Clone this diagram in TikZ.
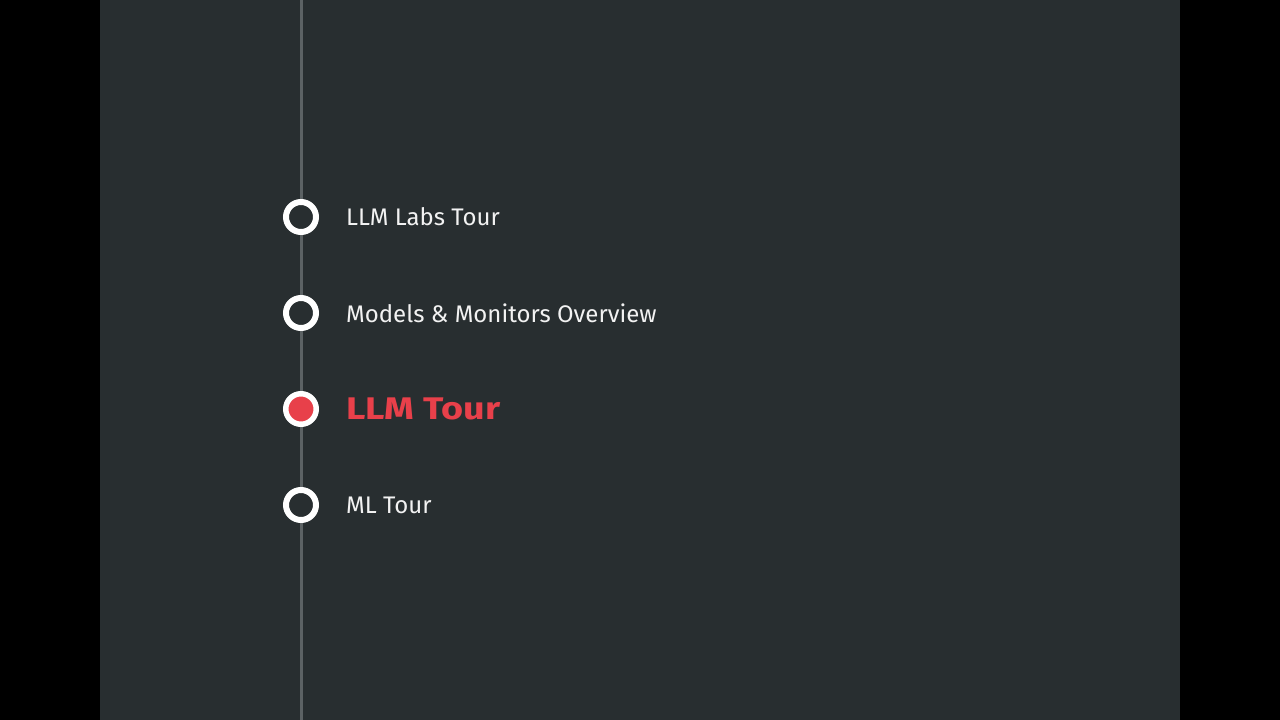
\documentclass[tikz,border=0pt]{standalone}
\usepackage{fontspec}
\setmainfont{Fira Sans}
\definecolor{bgpanel}{HTML}{282E30}
\definecolor{railgray}{HTML}{5C6264}
\definecolor{accent}{HTML}{E8404A}
\definecolor{labelwhite}{HTML}{F2F2F2}
\tikzset{
  ring/.style={circle, draw=white, line width=6pt, fill=bgpanel, minimum size=30pt, inner sep=0pt},
  ringactive/.style={ring, fill=accent, line width=5.5pt, minimum size=30.5pt},
  steplabel/.style={anchor=west, text=labelwhite, font=\fontsize{24}{28}\selectfont, inner sep=0pt},
  steplabelactive/.style={anchor=west, text=accent, font=\fontsize{29.5}{32}\selectfont\bfseries, inner sep=0pt},
}
\begin{document}
\begin{tikzpicture}[x=1pt,y=-1pt]
\fill[black] (0,0) rectangle (1280,720);
\useasboundingbox (0,0) rectangle (1280,720);
\fill[bgpanel] (100,0) rectangle (1180,720);
\coordinate (top) at (301,0);
\coordinate (bottom) at (301,720);
\draw[railgray, line width=3pt] (top) -- (bottom);
\node[ring] (c1) at (301,217) {};
\node[ring] (c2) at (301,313) {};
\node[ringactive] (c3) at (301,409) {};
\node[ring] (c4) at (301,505) {};
\node[steplabel] (t1) at (346,217) {LLM Labs Tour};
\node[steplabel] (t2) at (346,313) {Models \& Monitors Overview};
\node[steplabelactive] (t3) at (346,409) {\scalebox{1.28}[1.06]{LLM Tour}};
\node[steplabel] (t4) at (346,505) {ML Tour};
\end{tikzpicture}
\end{document}
